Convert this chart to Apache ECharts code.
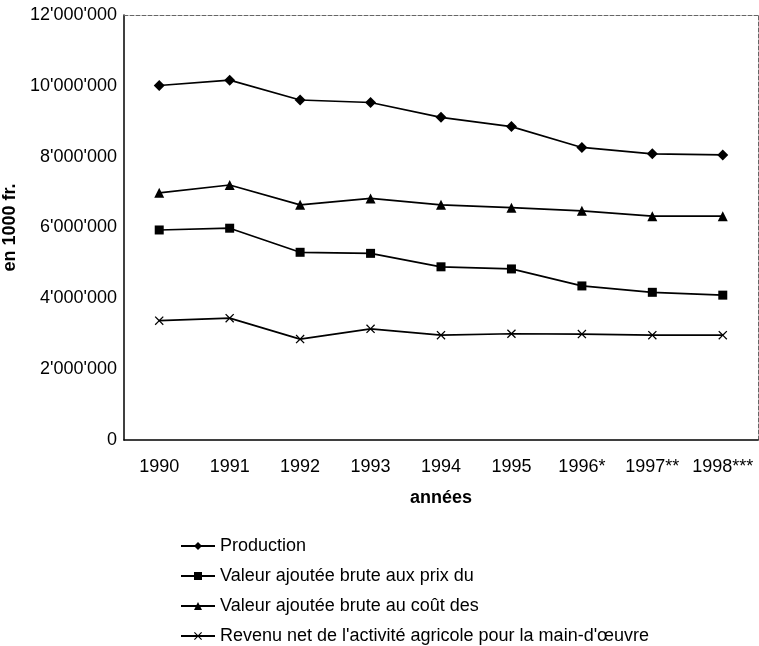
<!DOCTYPE html>
<html><head><meta charset="utf-8">
<script src="https://cdn.jsdelivr.net/npm/echarts@6/dist/echarts.min.js"></script>
<style>html,body{margin:0;padding:0;background:#fff}#c{width:759px;height:646px}</style>
</head><body><div id="c"></div>
<script>
const years = ['1990','1991','1992','1993','1994','1995','1996*','1997**','1998***'];
const production = [10010000,10160000,9600000,9530000,9110000,8850000,8260000,8080000,8050000];
const vabPrix = [5930000,5980000,5300000,5270000,4890000,4830000,4350000,4170000,4090000];
const vabCout = [6980000,7200000,6640000,6820000,6640000,6560000,6470000,6320000,6320000];
const revenuNet = [3370000,3440000,2850000,3140000,2960000,3000000,2990000,2960000,2960000];
const seriesNames = ['Production','Valeur ajoutée brute aux prix du','Valeur ajoutée brute au coût des',"Revenu net de l'activité agricole pour la main-d'œuvre"];
const yTicks = {min:0, max:12000000, interval:2000000};

const font = 'Liberation Sans, Arial, Helvetica, sans-serif';
const fmt = v => String(v).replace(/\B(?=(\d{3})+(?!\d))/g, "'");
const crossPath = 'path://M0,1L1,0L5,4L9,0L10,1L6,5L10,9L9,10L5,6L1,10L0,9L4,5Z';
const mk = (name, data, symbol, size) => ({
  name, type:'line', data, symbol, symbolSize:size, showSymbol:true,
  xAxisIndex:0, yAxisIndex:0,
  lineStyle:{color:'#000', width:1.7}, itemStyle:{color:'#000'}, animation:false
});
const chart = echarts.init(document.getElementById('c'), null, {renderer:'canvas'});
chart.setOption({
  animation:false,
  backgroundColor:'#fff',
  grid:{left:124, right:1, top:15, bottom:206, show:false, containLabel:false, outerBoundsMode:'none'},
  legend:{
    orient:'vertical', left:180, top:537, height:120, padding:0, itemGap:12, itemWidth:34, itemHeight:10,
    textStyle:{fontFamily:font, fontSize:18, color:'#000'},
    data:seriesNames
  },
  xAxis:[{
    type:'category', data:years, boundaryGap:true,
    name:'années', nameLocation:'middle', nameGap:49,
    nameTextStyle:{fontFamily:font, fontSize:18, fontWeight:'bold', color:'#000'},
    axisLine:{lineStyle:{color:'#000', width:1.5}},
    axisTick:{show:false},
    axisLabel:{fontFamily:font, fontSize:18, color:'#000', margin:18, interval:0, hideOverlap:false}
  },{
    type:'category', data:years, position:'top',
    axisLine:{show:true, onZero:false, lineStyle:{color:'#666', width:1, type:'dashed'}},
    axisTick:{show:false}, axisLabel:{show:false}
  }],
  yAxis:[{
    type:'value', min:yTicks.min, max:yTicks.max, interval:yTicks.interval,
    name:'en 1000 fr.', nameLocation:'middle', nameGap:100, nameRotate:90,
    nameTextStyle:{fontFamily:font, fontSize:18, fontWeight:'bold', color:'#000'},
    axisLine:{show:true, lineStyle:{color:'#000', width:1.5}},
    axisTick:{show:false}, splitLine:{show:false},
    axisLabel:{fontFamily:font, fontSize:18, color:'#000', margin:7, formatter:fmt}
  },{
    type:'value', min:yTicks.min, max:yTicks.max, interval:yTicks.interval, position:'right',
    axisLine:{show:true, onZero:false, lineStyle:{color:'#666', width:1, type:'dashed'}},
    axisTick:{show:false}, splitLine:{show:false}, axisLabel:{show:false}
  }],
  series:[
    mk(seriesNames[0], production, 'diamond', 11),
    mk(seriesNames[1], vabPrix, 'rect', 9),
    mk(seriesNames[2], vabCout, 'triangle', 10),
    mk(seriesNames[3], revenuNet, crossPath, 9)
  ]
});
</script></body></html>
